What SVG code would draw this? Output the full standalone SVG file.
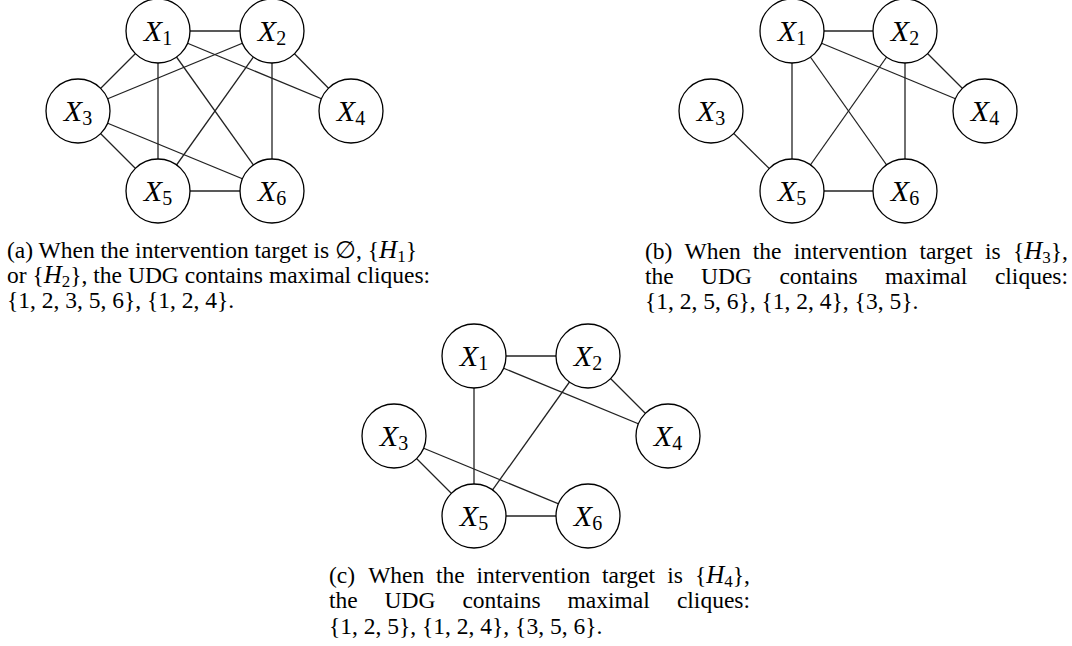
<svg xmlns="http://www.w3.org/2000/svg" width="1072" height="646" viewBox="0 0 1072 646">
<style>
.bg{fill:#fff}
.edges line{stroke:#222;stroke-width:1.3}
.node circle{fill:#fff;stroke:#000;stroke-width:1.3}
.node text{font-family:"Liberation Serif","Times New Roman",serif;font-size:30px;text-anchor:middle;fill:#000}
.x{font-style:italic}
.ns{font-size:20px}
.cap{font-family:"Liberation Serif","Times New Roman","DejaVu Serif",serif;font-size:23.5px;fill:#000}
.m{font-style:italic;font-size:25px}
.sub{font-size:17px}
</style>
<rect class="bg" x="0" y="0" width="1072" height="646"/>
<g id="connectors" class="edges">
<line x1="158" y1="31" x2="272" y2="31"/>
<line x1="158" y1="31" x2="78" y2="111"/>
<line x1="158" y1="31" x2="158" y2="191"/>
<line x1="158" y1="31" x2="272" y2="191"/>
<line x1="158" y1="31" x2="351" y2="111"/>
<line x1="272" y1="31" x2="78" y2="111"/>
<line x1="272" y1="31" x2="158" y2="191"/>
<line x1="272" y1="31" x2="272" y2="191"/>
<line x1="272" y1="31" x2="351" y2="111"/>
<line x1="78" y1="111" x2="158" y2="191"/>
<line x1="78" y1="111" x2="272" y2="191"/>
<line x1="158" y1="191" x2="272" y2="191"/>
<line x1="792" y1="31" x2="905" y2="31"/>
<line x1="792" y1="31" x2="985" y2="111"/>
<line x1="792" y1="31" x2="792" y2="191"/>
<line x1="792" y1="31" x2="905" y2="191"/>
<line x1="905" y1="31" x2="792" y2="191"/>
<line x1="905" y1="31" x2="905" y2="191"/>
<line x1="905" y1="31" x2="985" y2="111"/>
<line x1="711" y1="111" x2="792" y2="191"/>
<line x1="792" y1="191" x2="905" y2="191"/>
<line x1="474" y1="356" x2="588" y2="356"/>
<line x1="474" y1="356" x2="668" y2="436"/>
<line x1="474" y1="356" x2="474" y2="516"/>
<line x1="588" y1="356" x2="474" y2="516"/>
<line x1="588" y1="356" x2="668" y2="436"/>
<line x1="394" y1="436" x2="474" y2="516"/>
<line x1="394" y1="436" x2="588" y2="516"/>
<line x1="474" y1="516" x2="588" y2="516"/>
</g>
<g id="a-X1" class="node"><circle cx="158" cy="31" r="32"/><text x="158" y="41"><tspan class="x">X</tspan><tspan class="ns" dy="4">1</tspan></text></g>
<g id="a-X2" class="node"><circle cx="272" cy="31" r="32"/><text x="272" y="41"><tspan class="x">X</tspan><tspan class="ns" dy="4">2</tspan></text></g>
<g id="a-X3" class="node"><circle cx="78" cy="111" r="32"/><text x="78" y="121"><tspan class="x">X</tspan><tspan class="ns" dy="4">3</tspan></text></g>
<g id="a-X4" class="node"><circle cx="351" cy="111" r="32"/><text x="351" y="121"><tspan class="x">X</tspan><tspan class="ns" dy="4">4</tspan></text></g>
<g id="a-X5" class="node"><circle cx="158" cy="191" r="32"/><text x="158" y="201"><tspan class="x">X</tspan><tspan class="ns" dy="4">5</tspan></text></g>
<g id="a-X6" class="node"><circle cx="272" cy="191" r="32"/><text x="272" y="201"><tspan class="x">X</tspan><tspan class="ns" dy="4">6</tspan></text></g>
<g id="b-X1" class="node"><circle cx="792" cy="31" r="32"/><text x="792" y="41"><tspan class="x">X</tspan><tspan class="ns" dy="4">1</tspan></text></g>
<g id="b-X2" class="node"><circle cx="905" cy="31" r="32"/><text x="905" y="41"><tspan class="x">X</tspan><tspan class="ns" dy="4">2</tspan></text></g>
<g id="b-X3" class="node"><circle cx="711" cy="111" r="32"/><text x="711" y="121"><tspan class="x">X</tspan><tspan class="ns" dy="4">3</tspan></text></g>
<g id="b-X4" class="node"><circle cx="985" cy="111" r="32"/><text x="985" y="121"><tspan class="x">X</tspan><tspan class="ns" dy="4">4</tspan></text></g>
<g id="b-X5" class="node"><circle cx="792" cy="191" r="32"/><text x="792" y="201"><tspan class="x">X</tspan><tspan class="ns" dy="4">5</tspan></text></g>
<g id="b-X6" class="node"><circle cx="905" cy="191" r="32"/><text x="905" y="201"><tspan class="x">X</tspan><tspan class="ns" dy="4">6</tspan></text></g>
<g id="c-X1" class="node"><circle cx="474" cy="356" r="32"/><text x="474" y="366"><tspan class="x">X</tspan><tspan class="ns" dy="4">1</tspan></text></g>
<g id="c-X2" class="node"><circle cx="588" cy="356" r="32"/><text x="588" y="366"><tspan class="x">X</tspan><tspan class="ns" dy="4">2</tspan></text></g>
<g id="c-X3" class="node"><circle cx="394" cy="436" r="32"/><text x="394" y="446"><tspan class="x">X</tspan><tspan class="ns" dy="4">3</tspan></text></g>
<g id="c-X4" class="node"><circle cx="668" cy="436" r="32"/><text x="668" y="446"><tspan class="x">X</tspan><tspan class="ns" dy="4">4</tspan></text></g>
<g id="c-X5" class="node"><circle cx="474" cy="516" r="32"/><text x="474" y="526"><tspan class="x">X</tspan><tspan class="ns" dy="4">5</tspan></text></g>
<g id="c-X6" class="node"><circle cx="588" cy="516" r="32"/><text x="588" y="526"><tspan class="x">X</tspan><tspan class="ns" dy="4">6</tspan></text></g>
<g id="caption-a" class="cap">
<text x="7" y="258">(a) When the intervention target is ∅, {<tspan class="m">H</tspan><tspan class="sub" dy="4">1</tspan><tspan dy="-4">}</tspan></text>
<text x="7" y="283">or {<tspan class="m">H</tspan><tspan class="sub" dy="4">2</tspan><tspan dy="-4">}, the UDG contains maximal cliques:</tspan></text>
<text x="7" y="308">{1, 2, 3, 5, 6}, {1, 2, 4}.</text>
</g>
<g id="caption-b" class="cap">
<text y="259"><tspan x="645">(b)</tspan><tspan x="684.6">When</tspan><tspan x="752.8">the</tspan><tspan x="793.7">intervention</tspan><tspan x="919.4">target</tspan><tspan x="985.1">is</tspan></text>
<text x="1068" y="259" text-anchor="end">{<tspan class="m">H</tspan><tspan class="sub" dy="4">3</tspan><tspan dy="-4">},</tspan></text>
<text y="284"><tspan x="645">the</tspan><tspan x="701.1">UDG</tspan><tspan x="779.4">contains</tspan><tspan x="885.1">maximal</tspan></text>
<text x="1068" y="284" text-anchor="end">cliques:</text>
<text x="645" y="309">{1, 2, 5, 6}, {1, 2, 4}, {3, 5}.</text>
</g>
<g id="caption-c" class="cap">
<text y="583"><tspan x="329">(c)</tspan><tspan x="368.2">When</tspan><tspan x="436.1">the</tspan><tspan x="476.6">intervention</tspan><tspan x="602">target</tspan><tspan x="667.3">is</tspan></text>
<text x="750" y="583" text-anchor="end">{<tspan class="m">H</tspan><tspan class="sub" dy="4">4</tspan><tspan dy="-4">},</tspan></text>
<text y="608"><tspan x="329">the</tspan><tspan x="384.6">UDG</tspan><tspan x="462.4">contains</tspan><tspan x="567.6">maximal</tspan></text>
<text x="750" y="608" text-anchor="end">cliques:</text>
<text x="329" y="634">{1, 2, 5}, {1, 2, 4}, {3, 5, 6}.</text>
</g>
</svg>
